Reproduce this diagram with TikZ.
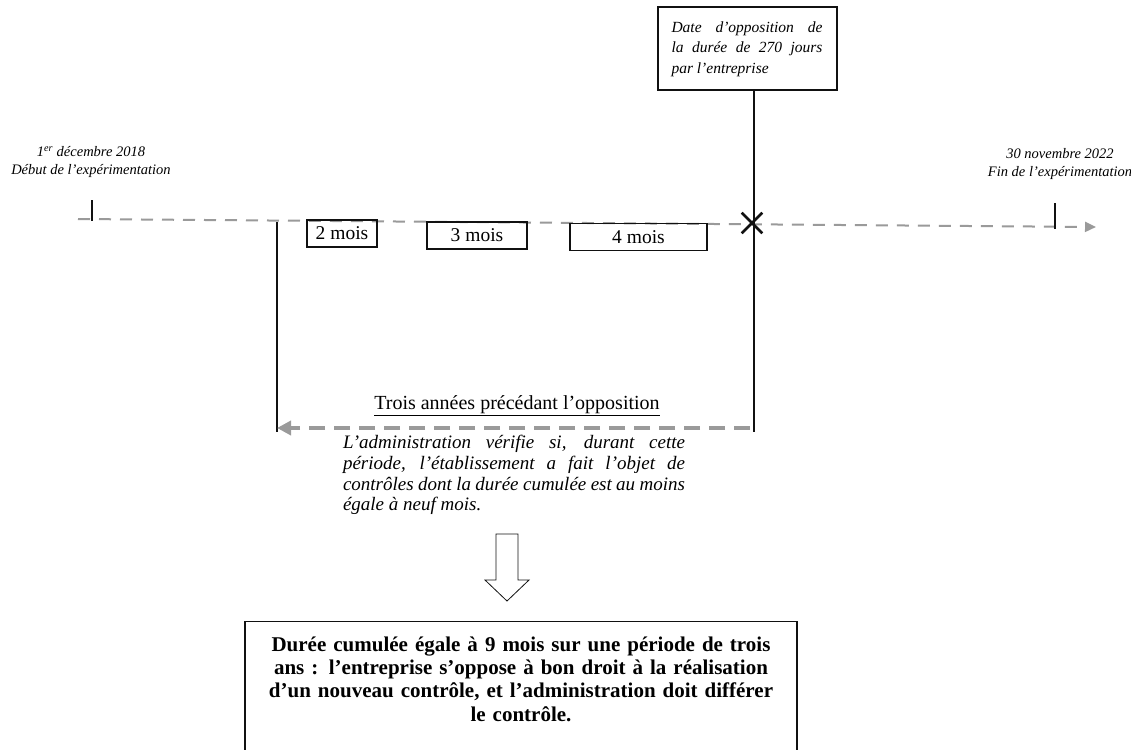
\documentclass[tikz,border=0pt]{standalone}
\usepackage{fontspec}
\setmainfont{Liberation Serif}
\usetikzlibrary{positioning,arrows.meta,shapes.misc}
\definecolor{tlGray}{HTML}{9A9A9A}
\definecolor{tlDark}{HTML}{111111}
\newcommand{\moisbox}[4]{%
 \node[draw=tlDark, line width=1.7pt, minimum width=#4, minimum height=27pt, inner sep=0pt, font=\fontsize{19.5}{22}\selectfont] (#2) at (#1) {#3};}

\begin{document}
\begin{tikzpicture}[x=1pt, y=-1pt]
\useasboundingbox (0,0) rectangle (1131,749);
% timeline
\coordinate (tlDebut) at (78,219);
\coordinate (tlFin) at (1096,227);
\draw[tlGray, line width=2pt, dash pattern=on 12pt off 9pt, -{Triangle[length=11pt,width=10pt]}] (tlDebut) -- (tlFin);
\draw[tlDark, line width=2pt] (92,200) -- (92,221);
\draw[tlDark, line width=2pt] (1055,203) -- (1055,229);
\node[font=\fontsize{14.5}{17.5}\selectfont\itshape, align=center] (debut) at (91,162) {1\textsuperscript{er} décembre 2018\\Début de l’expérimentation};
\node[font=\fontsize{14.5}{17.5}\selectfont\itshape, align=center] (fin) at (1060,164) {30 novembre 2022\\Fin de l’expérimentation};
% opposition
\node[draw=tlDark, line width=2pt, text width=151pt, align=justify, minimum height=83pt, inner xsep=14pt, inner ysep=5pt, font=\fontsize{15.5}{20.5}\selectfont\itshape] (opp) at (747,49) {Date d’opposition de\linebreak la durée de 270 jours\linebreak par l’entreprise};
\node[cross out, draw=tlDark, line width=2.6pt, minimum size=18pt, inner sep=0pt] (croix) at (752,223) {};
\coordinate (oppBas) at (754,432);
\draw[tlDark, line width=2pt] (opp.south -| oppBas) -- (oppBas);
% periods
\moisbox{342,233.5}{m2}{2 mois}{70pt}
\moisbox{477,235.5}{m3}{3 mois}{100pt}
\moisbox{638.5,237}{m4}{4 mois}{137pt}
% three years
\coordinate (troisHaut) at (277,222);
\coordinate (troisBas) at (277,432);
\draw[tlDark, line width=1.3pt] (troisHaut) -- (troisBas);
\node[font=\fontsize{20}{22}\selectfont] (titre) at (517,406) {\underline{Trois années précédant l’opposition}};
\coordinate (flecheDeb) at (750,428);
\coordinate (flecheFin) at (277,428);
\draw[tlGray, line width=4pt, dash pattern=on 16pt off 9pt, -{Triangle[length=14pt,width=14pt]}] (flecheDeb) -- (flecheFin);
\node[text width=342pt, align=justify, inner sep=0pt, font=\fontsize{19}{20.7}\selectfont\itshape] (verif) at (514,475) {L’administration vérifie si, durant cette\linebreak période, l’établissement a fait l’objet de\linebreak contrôles dont la durée cumulée est au moins\linebreak égale à neuf mois.};
% conclusion
\draw[tlDark, line width=0.8pt] (496,534) -- (518,534) -- (518,580) -- (529,580) -- (507,601) -- (485,580) -- (496,580) -- cycle;
\node[draw=tlDark, line width=1.3pt, anchor=north, minimum width=552pt, text width=540pt, align=center, inner ysep=15pt, font=\fontsize{21}{23.3}\selectfont\bfseries] (concl) at (521,621) {Durée cumulée égale à 9 mois sur une période de trois\\ ans : l’entreprise s’oppose à bon droit à la réalisation\\ d’un nouveau contrôle, et l’administration doit différer\\ le contrôle.\\ \mbox{}\\ \mbox{}};
\end{tikzpicture}
\end{document}
